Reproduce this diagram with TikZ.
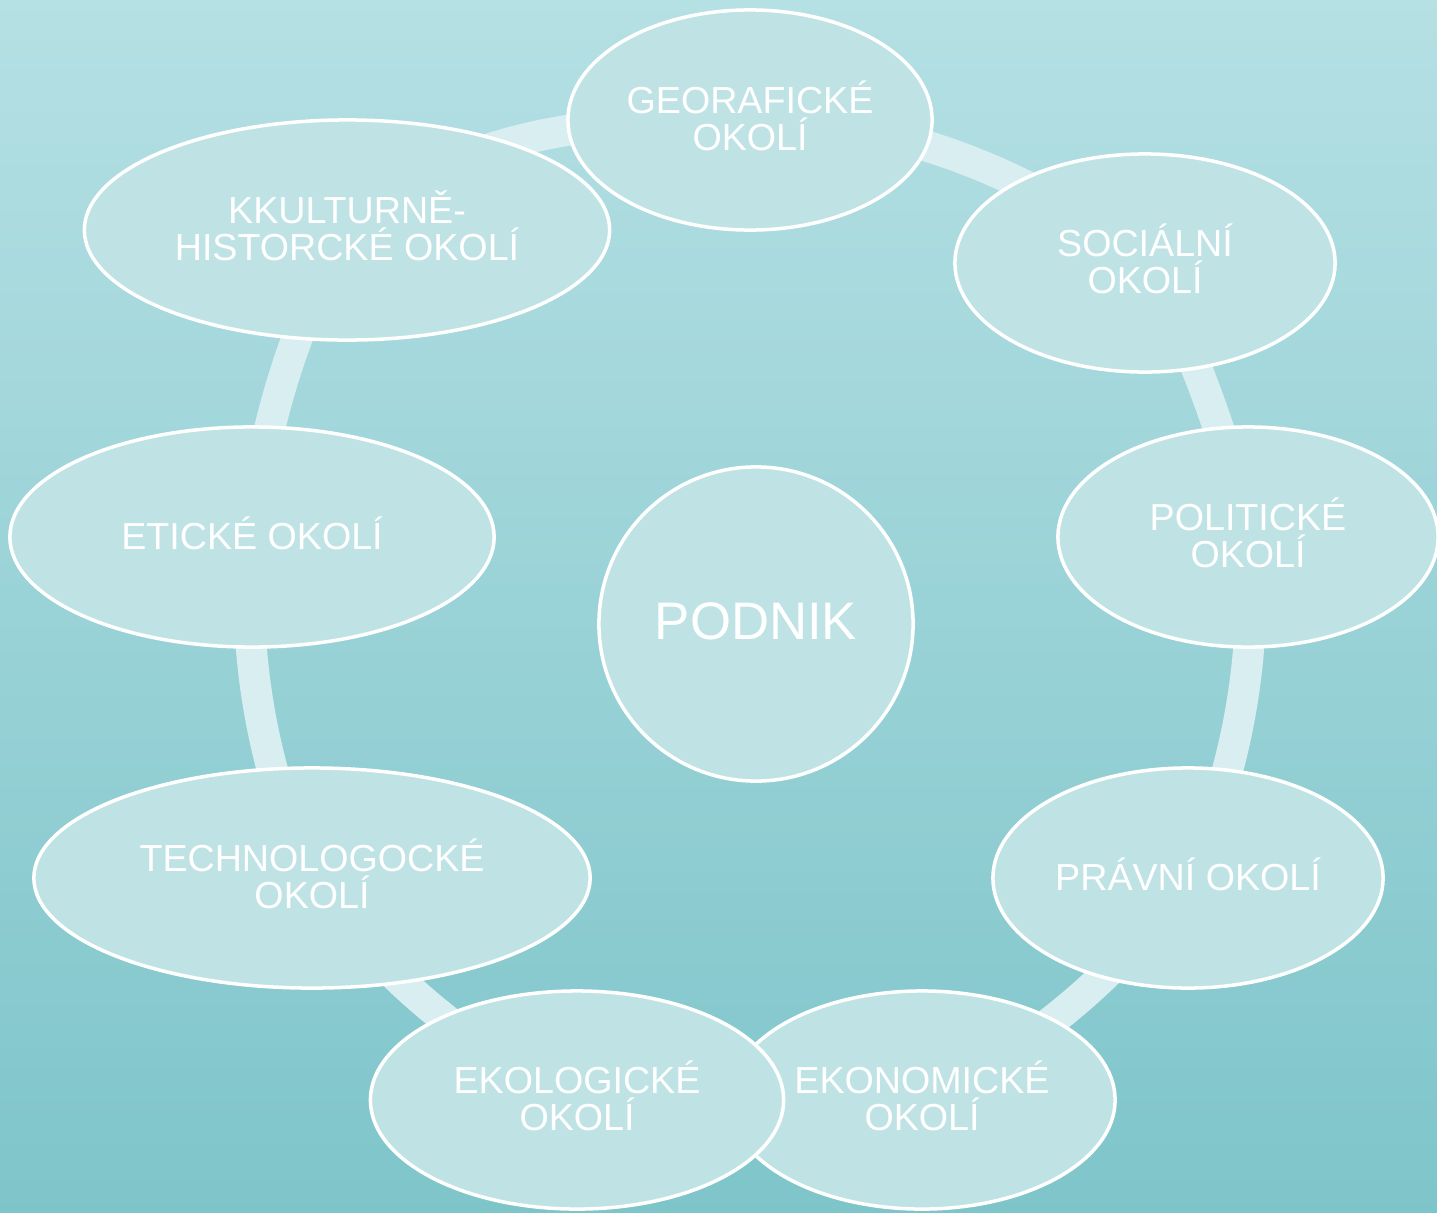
\documentclass[tikz,border=0pt]{standalone}
\usepackage{fontspec}
\setmainfont{Liberation Sans}
\usetikzlibrary{shapes.geometric}
\definecolor{bgtop}{RGB}{181,224,228}
\definecolor{bgbot}{RGB}{126,197,202}
\definecolor{ringc}{RGB}{216,238,240}
\definecolor{nodefill}{RGB}{191,227,229}
\pgfdeclarelayer{bglayer}
\pgfdeclarelayer{ringlayer}
\pgfsetlayers{bglayer,ringlayer,main}
\begin{document}
\begin{tikzpicture}[x=0.01cm,y=-0.01cm,
  oval/.style={ellipse, draw=white, line width=0.035cm, fill=nodefill, text=white,
    align=center, font=\fontsize{10.7}{10.5}\selectfont, inner sep=0pt, text depth=2.3pt},
  hub/.style={circle, draw=white, line width=0.035cm, fill=nodefill, text=white,
    font=\fontsize{15}{15}\selectfont, inner sep=0pt, minimum size=3.14cm, text depth=1.7pt},
  ringarc/.style={draw=ringc, line width=0.31cm}]
\useasboundingbox (0,0) rectangle (1437,1212);
\begin{pgfonlayer}{bglayer}
\shade[top color=bgtop, bottom color=bgbot] (0,0) rectangle (1437,1212);
\end{pgfonlayer}

\node[oval, minimum width=3.64cm, minimum height=2.2cm] (geo) at (750,120) {GEORAFICKÉ\\OKOLÍ};
\node[oval, minimum width=3.8cm, minimum height=2.18cm] (soc) at (1145,263) {SOCIÁLNÍ\\OKOLÍ};
\node[oval, minimum width=3.8cm, minimum height=2.2cm] (pol) at (1248,537) {POLITICKÉ\\OKOLÍ};
\node[oval, minimum width=3.9cm, minimum height=2.2cm] (prav) at (1188,878) {PRÁVNÍ OKOLÍ};
\node[oval, minimum width=3.86cm, minimum height=2.18cm] (ekon) at (922,1100) {EKONOMICKÉ\\OKOLÍ};
\node[oval, minimum width=4.13cm, minimum height=2.18cm] (ekol) at (577,1100) {EKOLOGICKÉ\\OKOLÍ};
\node[oval, minimum width=5.56cm, minimum height=2.2cm] (tech) at (312,878) {TECHNOLOGOCKÉ\\OKOLÍ};
\node[oval, minimum width=4.84cm, minimum height=2.2cm] (etic) at (252,537) {ETICKÉ OKOLÍ};
\node[oval, minimum width=5.25cm, minimum height=2.2cm] (kkul) at (347,230) {KKULTURNĚ-\\HISTORCKÉ OKOLÍ};
\node[hub] (podnik) at (756,624) {PODNIK};

\begin{pgfonlayer}{ringlayer}
\draw[ringarc] (kkul.center) .. controls +(120,-110) and +(-120,0) .. (geo.center);
\draw[ringarc] (geo.center) .. controls +(110,-5) and +(-125,-103) .. (soc.center);
\draw[ringarc] (soc.center) .. controls +(40,60) and +(-15,-80) .. (pol.center);
\draw[ringarc] (pol.center) .. controls +(11,114) and +(49,-103) .. (prav.center);
\draw[ringarc] (prav.center) .. controls +(-65,94) and +(104,-47) .. (ekon.center);
\draw[ringarc] (ekol.center) .. controls +(-104,-47) and +(64.5,94) .. (tech.center);
\draw[ringarc] (tech.center) .. controls +(-49,-103) and +(-11,114) .. (etic.center);
\draw[ringarc] (etic.center) .. controls +(9,-105.5) and +(-52,92) .. (kkul.center);
\end{pgfonlayer}
\end{tikzpicture}
\end{document}
